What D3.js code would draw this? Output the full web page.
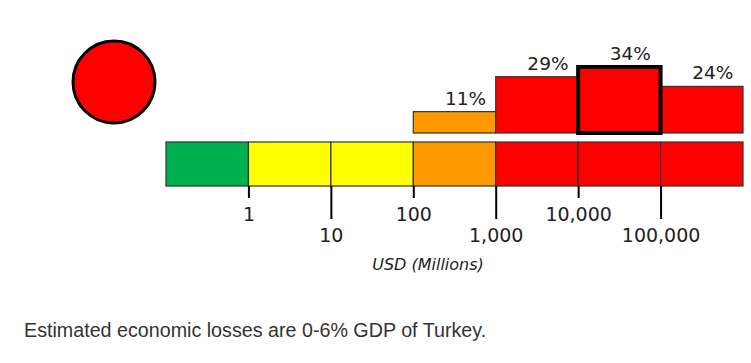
<!DOCTYPE html>
<html>
<head>
<meta charset="utf-8">
<script src="https://cdn.jsdelivr.net/npm/d3@7"></script>
<style>
  body { margin: 0; background: #fff; }
  svg { display: block; }
  .caption { font-family: "Liberation Sans", Arial, sans-serif; font-size: 19.7px; fill: #333; }
  .lbl { font-family: "DejaVu Sans", sans-serif; font-size: 18.5px; fill: #222; }
</style>
</head>
<body>
<div id="chart"></div>
<script>
// Economic loss bands (USD millions) and their alert colours
const bandEdges = [0.1, 1, 10, 100, 1000, 10000, 100000, 1000000];
const bandColors = ['#00b050', '#ffff00', '#ffff00', '#ff9900', '#ff0000', '#ff0000', '#ff0000'];

// Probability histogram over the bands
const histLo = [100, 1000, 10000, 100000];
const histHi = [1000, 10000, 100000, 1000000];
const histPct = [11, 29, 34, 24];
const histColors = ['#ff9900', '#ff0000', '#ff0000', '#ff0000'];
const histMax = 2; // index of the most likely band

const shortTicks = [1, 100, 10000];
const longTicks = [10, 1000, 100000];
const tickFmt = d3.format(',');

const W = 751, H = 363;
const svg = d3.select('#chart').append('svg').attr('width', W).attr('height', H);

const x = d3.scaleLog().domain([0.1, 1e6]).range([166, 743]);
const barTop = 142, barH = 44;
const histBase = 133;
const y = d3.scaleLinear().domain([0, 34]).range([0, 66]);

// alert circle
svg.append('circle')
  .attr('cx', 114).attr('cy', 82).attr('r', 41)
  .attr('fill', '#ff0000').attr('stroke', '#000').attr('stroke-width', 3);

// colour bar
svg.append('g').selectAll('rect')
  .data(bandColors)
  .join('rect')
  .attr('x', (d, i) => x(bandEdges[i]))
  .attr('y', barTop)
  .attr('width', (d, i) => x(bandEdges[i + 1]) - x(bandEdges[i]))
  .attr('height', barH)
  .attr('fill', d => d)
  .attr('stroke', '#333')
  .attr('stroke-width', 1.2);

// histogram
const hist = histPct.map((p, i) => ({ p, lo: histLo[i], hi: histHi[i], c: histColors[i], max: i === histMax }));
const hg = svg.append('g');
hg.selectAll('rect')
  .data(hist.filter(d => !d.max).concat(hist.filter(d => d.max)))
  .join('rect')
  .attr('x', d => x(d.lo))
  .attr('y', d => histBase - y(d.p))
  .attr('width', d => x(d.hi) - x(d.lo))
  .attr('height', d => y(d.p))
  .attr('fill', d => d.c)
  .attr('stroke', d => d.max ? '#000' : '#333')
  .attr('stroke-width', d => d.max ? 4 : 1.2);

hg.selectAll('text')
  .data(hist)
  .join('text')
  .attr('class', 'lbl')
  .attr('x', d => (x(d.lo) + x(d.hi)) / 2 + 11)
  .attr('y', d => histBase - y(d.p) - 7)
  .attr('text-anchor', 'middle')
  .text(d => d.p + '%');

// axes with alternating tick lengths
function drawAxis(vals, len) {
  const g = svg.append('g')
    .attr('transform', `translate(0,${barTop + barH})`)
    .call(d3.axisBottom(x).tickValues(vals).tickSize(len).tickPadding(10).tickFormat(tickFmt));
  g.select('.domain').remove();
  g.selectAll('.tick line').attr('stroke', '#000').attr('stroke-width', 2);
  g.selectAll('.tick text')
    .attr('font-family', 'DejaVu Sans, sans-serif')
    .attr('font-size', 19)
    .attr('fill', '#222');
}
drawAxis(shortTicks, 12);
drawAxis(longTicks, 33);

svg.append('text')
  .attr('x', 428).attr('y', 270)
  .attr('text-anchor', 'middle')
  .attr('font-family', 'DejaVu Sans, sans-serif')
  .attr('font-style', 'italic')
  .attr('font-size', 16)
  .attr('fill', '#222')
  .text('USD (Millions)');

svg.append('text')
  .attr('class', 'caption')
  .attr('x', 24).attr('y', 337)
  .text('Estimated economic losses are 0-6% GDP of Turkey.');
</script>
</body>
</html>
